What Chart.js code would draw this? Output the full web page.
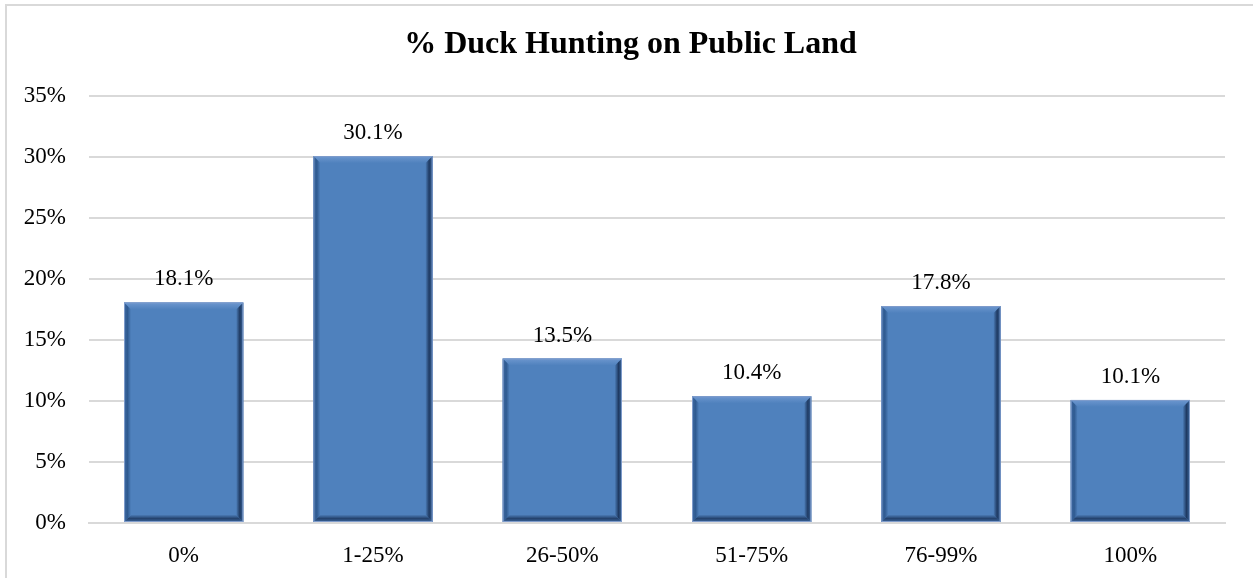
<!DOCTYPE html>
<html lang="en">
<head>
    <meta charset="UTF-8">
    <title>% Duck Hunting on Public Land</title>
    <script src="https://cdn.jsdelivr.net/npm/chart.js"></script>
    <style>
        html, body { margin: 0; padding: 0; background: #fff; }
        #wrap { position: relative; width: 1253px; height: 578px; overflow: hidden; }
        #frame {
            position: absolute; left: 5px; top: 4px; width: 1300px; height: 640px;
            border: 2px solid #d9d9d9; box-sizing: border-box;
        }
        canvas { position: absolute; left: 0; top: 0; }
    </style>
</head>
<body>
<div id="wrap">
    <div id="frame"></div>
    <canvas id="duckChart" width="1253" height="578"></canvas>
</div>
<script>
    const categories = ['0%', '1-25%', '26-50%', '51-75%', '76-99%', '100%'];
    const shares = [18.1, 30.1, 13.5, 10.4, 17.8, 10.1];
    const yTicks = [0, 5, 10, 15, 20, 25, 30, 35];

    const serif = '"Liberation Serif", "Times New Roman", serif';

    // bevelled edges drawn over each bar, from the bar element's own geometry
    const bevel = {
        id: 'bevel',
        afterDatasetsDraw(chart) {
            const ctx = chart.ctx;
            chart.getDatasetMeta(0).data.forEach(bar => {
                const p = bar.getProps(['x', 'y', 'base', 'width']);
                const l = p.x - p.width / 2, r = p.x + p.width / 2;
                const t = p.y, b = p.base;
                const d = 7;
                ctx.save();
                // top
                let g = ctx.createLinearGradient(0, t, 0, t + d);
                g.addColorStop(0, '#6d97cf'); g.addColorStop(1, '#4f81bd');
                ctx.fillStyle = g;
                ctx.beginPath();
                ctx.moveTo(l, t); ctx.lineTo(r, t); ctx.lineTo(r - d, t + d); ctx.lineTo(l + d, t + d);
                ctx.fill();
                // left
                g = ctx.createLinearGradient(l, 0, l + d, 0);
                g.addColorStop(0, '#3e6aa3'); g.addColorStop(0.5, '#2f5a90'); g.addColorStop(1, '#4f81bd');
                ctx.fillStyle = g;
                ctx.beginPath();
                ctx.moveTo(l, t); ctx.lineTo(l + d, t + d); ctx.lineTo(l + d, b - d); ctx.lineTo(l, b);
                ctx.fill();
                // right
                g = ctx.createLinearGradient(r - d, 0, r, 0);
                g.addColorStop(0, '#4a7ab4'); g.addColorStop(0.5, '#1f3a62'); g.addColorStop(1, '#3c669c');
                ctx.fillStyle = g;
                ctx.beginPath();
                ctx.moveTo(r, t); ctx.lineTo(r, b); ctx.lineTo(r - d, b - d); ctx.lineTo(r - d, t + d);
                ctx.fill();
                // bottom
                g = ctx.createLinearGradient(0, b - d, 0, b);
                g.addColorStop(0, '#4a7ab4'); g.addColorStop(0.5, '#25436e'); g.addColorStop(1, '#3c669c');
                ctx.fillStyle = g;
                ctx.beginPath();
                ctx.moveTo(l, b); ctx.lineTo(l + d, b - d); ctx.lineTo(r - d, b - d); ctx.lineTo(r, b);
                ctx.fill();
                // thin outline
                ctx.strokeStyle = '#7f9ccb';
                ctx.lineWidth = 1;
                ctx.strokeRect(l + 0.5, t + 0.5, p.width - 1, b - t - 1);
                ctx.restore();
            });
        }
    };

    // value labels above the bars
    const valueLabels = {
        id: 'valueLabels',
        afterDatasetsDraw(chart) {
            const ctx = chart.ctx;
            ctx.save();
            ctx.font = '23px ' + serif;
            ctx.fillStyle = '#000';
            ctx.textAlign = 'center';
            ctx.textBaseline = 'middle';
            chart.getDatasetMeta(0).data.forEach((bar, i) => {
                ctx.fillText(shares[i].toFixed(1) + '%', bar.x, bar.y - 23);
            });
            ctx.restore();
        }
    };

    // centre the title over the whole frame rather than the padded layout box
    const titleShift = {
        id: 'titleShift',
        afterLayout(chart) {
            const tb = chart.titleBlock;
            if (tb) { tb.left += 18; tb.right += 18; }
        }
    };

    new Chart(document.getElementById('duckChart'), {
        type: 'bar',
        data: {
            labels: categories,
            datasets: [{
                data: shares,
                backgroundColor: '#4f81bd',
                borderWidth: 0,
                categoryPercentage: 1,
                barPercentage: 0.63
            }]
        },
        options: {
            responsive: false,
            animation: false,
            layout: { padding: { left: 0, right: 28, top: 0, bottom: 0 } },
            plugins: {
                legend: { display: false },
                tooltip: { enabled: false },
                title: {
                    display: true,
                    text: '% Duck Hunting on Public Land',
                    color: '#000',
                    font: { family: serif, size: 32, weight: 'bold', lineHeight: 1.2 },
                    padding: { top: 26, bottom: 32 }
                }
            },
            scales: {
                x: {
                    grid: { display: false },
                    border: { display: true, color: '#d9d9d9', width: 2 },
                    ticks: { color: '#000', font: { family: serif, size: 23 }, padding: 11 },
                    afterFit(scale) { scale.height = 55; }
                },
                y: {
                    min: 0,
                    max: 35,
                    afterBuildTicks(scale) { scale.ticks = yTicks.map(v => ({ value: v })); },
                    grid: { color: '#d9d9d9', lineWidth: 2, drawTicks: false },
                    border: { display: false },
                    ticks: {
                        color: '#000',
                        font: { family: serif, size: 23 },
                        padding: 23,
                        callback: v => v + '%'
                    },
                    afterFit(scale) { scale.width = 89; }
                }
            }
        },
        plugins: [bevel, valueLabels, titleShift]
    });
</script>
</body>
</html>
